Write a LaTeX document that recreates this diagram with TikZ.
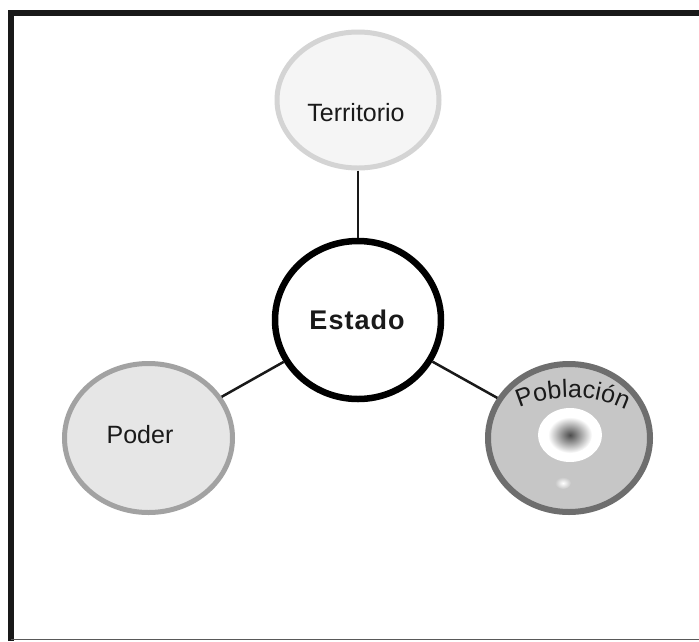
\documentclass[tikz,border=0pt]{standalone}
\usepackage{fontspec}
\setmainfont{Liberation Sans}
\usetikzlibrary{shapes.geometric,decorations.text}
\definecolor{terring}{HTML}{D4D4D4}
\definecolor{terfill}{HTML}{F5F5F5}
\definecolor{podring}{HTML}{A2A2A2}
\definecolor{podfill}{HTML}{E6E6E6}
\definecolor{pobring}{HTML}{6E6E6E}
\definecolor{pobfill}{HTML}{C6C6C6}
\definecolor{txt}{HTML}{1A1A1A}
\tikzset{
  bubble/.style={ellipse, inner sep=0pt},
  connector/.style={draw=black!90, line width=2.5pt},
  lbl/.style={text=txt, font=\fontsize{25}{28}\selectfont, inner sep=0pt}
}
\begin{document}
\begin{tikzpicture}[x=1pt,y=-1pt]
\useasboundingbox (0,0) rectangle (699,641);
\fill[white] (0,0) rectangle (699,641);
% frame
\draw[line width=6pt, black!90] (11,641) -- (11,13) -- (699,13);
\draw[line width=1.5pt, black!65] (11,639.5) -- (699,639.5);
% bubbles
\node[bubble, draw=terring, fill=terfill, line width=5pt, minimum width=162pt, minimum height=136pt] (terr) at (358,100) {};
\node[bubble, draw=podring, fill=podfill, line width=5pt, minimum width=168pt, minimum height=149pt] (poder) at (148.5,438) {};
\node[bubble, draw=pobring, fill=pobfill, line width=6pt, minimum width=162pt, minimum height=148pt] (pob) at (569,438) {};
\node[bubble, draw=black, fill=white, line width=6.5pt, minimum width=166pt, minimum height=158pt] (estado) at (358,320) {};
% connectors
\draw[connector] (terr) -- (estado);
\draw[connector] (poder) -- (estado);
\draw[connector] (pob) -- (estado);
% Población inner decoration
\fill[white] (570,435) ellipse [x radius=32pt, y radius=27pt];
\shade[inner color=black!70, outer color=white] (570,435) ellipse [x radius=22pt, y radius=18pt];
\shade[inner color=white, outer color=pobfill] (563,483) ellipse [x radius=8pt, y radius=6pt];
% labels
\node[lbl] (terrlbl) at (356,113) {Territorio};
\node[lbl] (poderlbl) at (140,435) {Poder};
\node[text=txt, font=\fontsize{27}{30}\selectfont\bfseries, inner sep=0pt] (estlbl) at (357,320) {E\kern1pt s\kern1pt t\kern1pt a\kern1pt d\kern1pt o};
\path[decorate, decoration={text along path, text align=center, text={|\fontsize{25}{28}\selectfont\color{txt}|Población}}]
  (515,410) .. controls (550,393) and (594,393) .. (630,412);
\end{tikzpicture}
\end{document}
